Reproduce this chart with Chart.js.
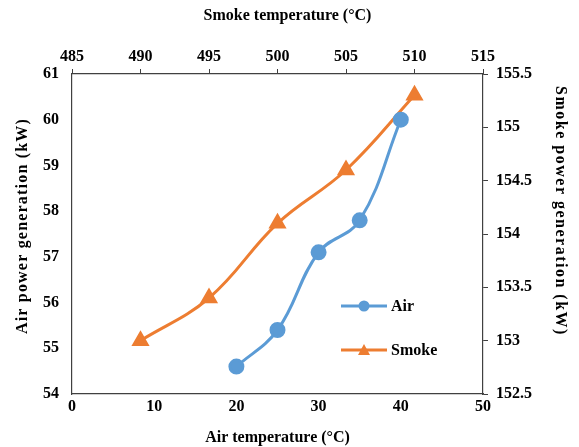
<!DOCTYPE html>
<html>
<head>
<meta charset="utf-8">
<script src="https://cdn.jsdelivr.net/npm/chart.js@4.4.1/dist/chart.umd.min.js"></script>
<style>
  html, body { margin: 0; padding: 0; background: #fff; }
  #wrap { width: 579px; height: 447px; }
</style>
</head>
<body>
<div id="wrap"><canvas id="chart" width="579" height="447"></canvas></div>
<script>
// Air series (bottom / left axes)
const airTemp = [20, 25, 30, 35, 40];
const airPower = [54.6, 55.4, 57.1, 57.8, 60.0];

// Smoke series (top / right axes)
const smokeTemp = [490, 495, 500, 505, 510];
const smokePower = [153.0, 153.4, 154.1, 154.6, 155.3];

const seriesNames = ['Air', 'Smoke'];

const FONT = 'Liberation Serif, Times New Roman, serif';
const AXIS = '#404040';
const tickFont = { family: FONT, size: 16, weight: 'bold' };
const titleFont = { family: FONT, size: 16, weight: 'bold' };

// legend drawn inside the plot area
const innerLegend = {
  id: 'innerLegend',
  afterDraw(chart) {
    const ctx = chart.ctx;
    const spots = [[341, 306], [341, 350]];
    chart.data.datasets.forEach((ds, i) => {
      const [x, y] = spots[i];
      ctx.save();
      ctx.strokeStyle = ds.borderColor;
      ctx.lineWidth = 3;
      ctx.beginPath();
      ctx.moveTo(x, y);
      ctx.lineTo(x + 46, y);
      ctx.stroke();
      ctx.fillStyle = ds.backgroundColor;
      ctx.beginPath();
      if (ds.pointStyle === 'triangle') {
        ctx.moveTo(x + 23, y - 6);
        ctx.lineTo(x + 29, y + 5);
        ctx.lineTo(x + 17, y + 5);
        ctx.closePath();
      } else {
        ctx.arc(x + 23, y, 5.5, 0, Math.PI * 2);
      }
      ctx.fill();
      ctx.fillStyle = '#000';
      ctx.font = 'bold 16px ' + FONT;
      ctx.textBaseline = 'middle';
      ctx.fillText(ds.label, x + 50, y + 1);
      ctx.restore();
    });
  }
};

// nudge axis titles (Excel places them slightly off-centre, vertical ones are spaced out)
const titleTweak = {
  id: 'titleTweak',
  beforeDraw(chart) {
    const tweaks = {
      x2: { dx: 10, dy: 0, spacing: '0px' },
      y: { dx: 0, dy: -8, spacing: '1.2px' },
      y2: { dx: 0, dy: -23, spacing: '1.5px' }
    };
    Object.keys(tweaks).forEach(id => {
      const scale = chart.scales[id];
      if (!scale || scale._tweaked) return;
      const t = tweaks[id];
      const orig = scale.drawTitle;
      scale.drawTitle = function() {
        const c = this.ctx;
        c.save();
        c.translate(t.dx, t.dy);
        c.letterSpacing = t.spacing;
        orig.apply(this, arguments);
        c.restore();
      };
      scale._tweaked = true;
    });
  }
};

function fixSize(prop, val) {
  return function(scale) { scale[prop] = val; };
}

const ctx = document.getElementById('chart').getContext('2d');
new Chart(ctx, {
  type: 'scatter',
  data: {
    datasets: [{
      label: seriesNames[0],
      data: airTemp.map((t, i) => ({ x: t, y: airPower[i] })),
      xAxisID: 'x',
      yAxisID: 'y',
      showLine: true,
      tension: 0.4,
      borderColor: '#5B9BD5',
      backgroundColor: '#5B9BD5',
      borderWidth: 3,
      pointStyle: 'circle',
      pointRadius: 6.5,
      pointHoverRadius: 6.5
    }, {
      label: seriesNames[1],
      data: smokeTemp.map((t, i) => ({ x: t, y: smokePower[i] })),
      xAxisID: 'x2',
      yAxisID: 'y2',
      showLine: true,
      tension: 0.4,
      borderColor: '#ED7D31',
      backgroundColor: '#ED7D31',
      borderWidth: 3,
      pointStyle: 'triangle',
      pointRadius: 7.5,
      pointHoverRadius: 7.5
    }]
  },
  options: {
    responsive: false,
    animation: false,
    layout: { padding: 0 },
    plugins: {
      legend: { display: false },
      tooltip: { enabled: false }
    },
    scales: {
      x: {
        type: 'linear',
        position: 'bottom',
        min: 0, max: 50,
        afterFit: fixSize('height', 53),
        ticks: { stepSize: 10, color: '#000', padding: 3, font: tickFont },
        grid: { drawOnChartArea: false, drawTicks: false },
        border: { color: AXIS, width: 1.2 },
        title: { display: true, text: 'Air temperature (°C)', color: '#000',
          font: titleFont, padding: { top: 0, bottom: 0 } }
      },
      x2: {
        type: 'linear',
        position: 'top',
        min: 485, max: 515,
        afterFit: fixSize('height', 74),
        ticks: { stepSize: 5, color: '#000', padding: 3, font: tickFont },
        grid: { drawOnChartArea: false, tickLength: 5, color: AXIS },
        border: { color: AXIS, width: 1.2 },
        title: { display: true, text: 'Smoke temperature (°C)', color: '#000',
          font: titleFont, padding: { top: 6, bottom: 0 } }
      },
      y: {
        type: 'linear',
        position: 'left',
        min: 54, max: 61,
        afterFit: fixSize('width', 72),
        ticks: { stepSize: 1, color: '#000', padding: 13, font: tickFont },
        grid: { drawOnChartArea: false, drawTicks: false },
        border: { color: AXIS, width: 1.2 },
        title: { display: true, text: 'Air power generation (kW)', color: '#000',
          font: titleFont, padding: { top: 13, bottom: 0 } }
      },
      y2: {
        type: 'linear',
        position: 'right',
        min: 152.5, max: 155.5,
        afterFit: fixSize('width', 96),
        ticks: { stepSize: 0.5, color: '#000', padding: 8,
          callback: v => Number.isInteger(v) ? String(v) : v.toFixed(1),
          font: tickFont },
        grid: { drawOnChartArea: false, tickLength: 5, color: AXIS },
        border: { color: AXIS, width: 1.2 },
        title: { display: true, text: 'Smoke power generation (kW)', color: '#000',
          font: titleFont, padding: { top: 9, bottom: 0 } }
      }
    }
  },
  plugins: [titleTweak, innerLegend]
});
</script>
</body>
</html>
